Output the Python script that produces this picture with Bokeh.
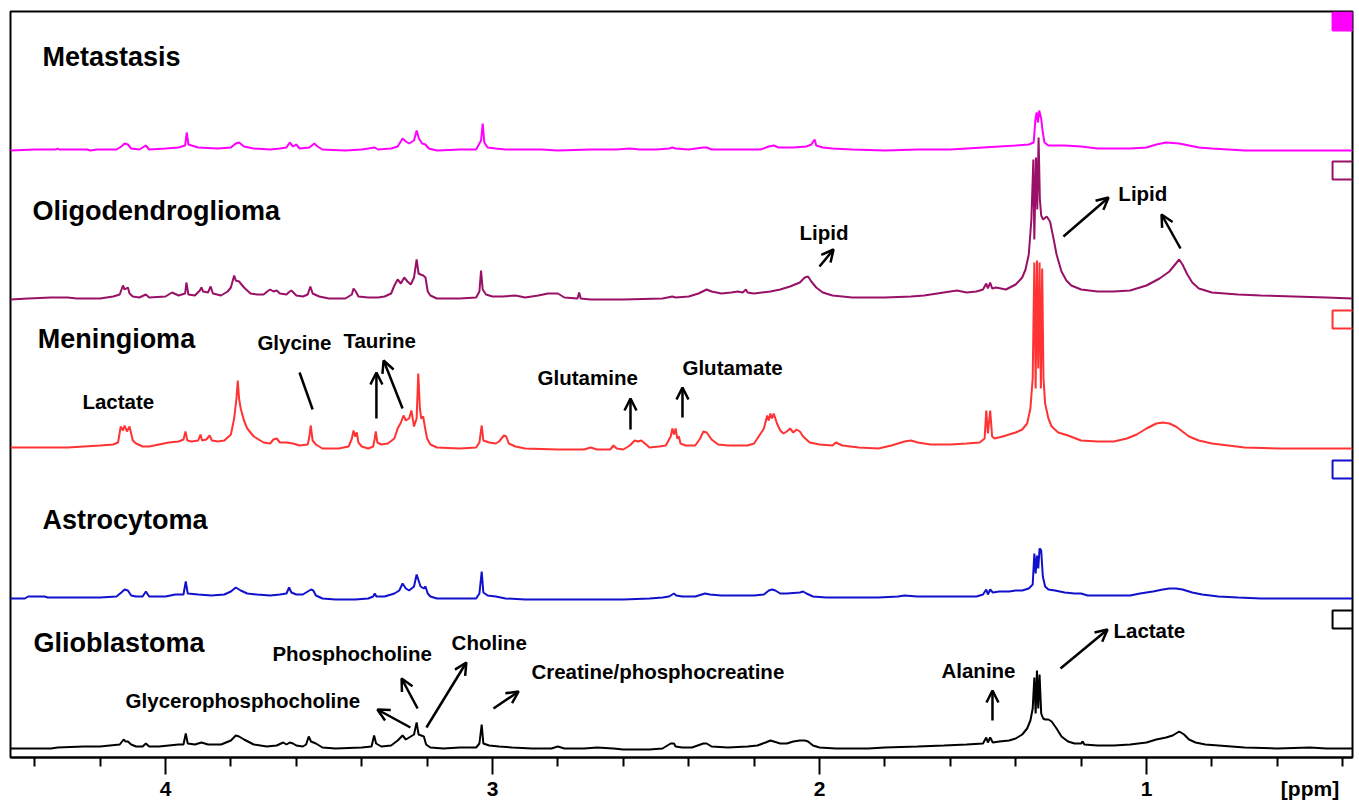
from bokeh.plotting import figure
from bokeh.models import Range1d, FixedTicker, Arrow, OpenHead, LinearAxis
from bokeh.core.properties import value
from bokeh.embed import file_html
from bokeh.resources import INLINE

FONT = "Liberation Sans"

# ---------------- data: (ppm, intensity above baseline) ----------------
metastasis = [(4.474,0),(4.40,1),(4.335,1),(4.33,2),(4.325,1),(4.24,1),(4.23,0),(4.21,1),(4.15,1),(4.135,4),(4.125,7),
 (4.115,6),(4.105,2),(4.08,1),(4.06,5),(4.05,1),(4.00,2),(3.96,3),(3.94,5),(3.935,18),(3.93,6),(3.90,3),(3.84,2),(3.80,3),
 (3.785,7),(3.775,8),(3.76,4),(3.73,2),(3.68,1),(3.65,2),(3.63,3),(3.62,8),(3.61,4),(3.60,6),(3.59,2),(3.56,3),(3.545,7),
 (3.535,4),(3.52,1),(3.45,0),(3.40,1),(3.36,3),(3.35,1),(3.31,2),(3.29,4),(3.275,12),(3.265,9),(3.255,7),(3.24,10),(3.232,20),
 (3.225,12),(3.215,7),(3.205,6),(3.195,2),(3.17,0),(3.10,1),(3.05,1),(3.035,10),(3.030,27),(3.025,8),(3.015,3),(2.99,2),
 (2.96,1),(2.90,1),(2.85,1),(2.80,0),(2.70,1),(2.62,1),(2.58,2),(2.55,1),(2.50,1),(2.46,2),(2.45,3),(2.44,2),(2.40,1),
 (2.355,3),(2.345,3),(2.33,1),(2.25,1),(2.18,1),(2.155,4),(2.14,5),(2.125,3),(2.08,3),(2.04,4),(2.025,6),(2.015,11),(2.01,5),
 (1.99,3),(1.96,2),(1.90,1),(1.80,0),(1.70,1),(1.60,1),(1.55,2),(1.50,3),(1.45,4),(1.40,5),(1.36,6),(1.345,8),(1.340,30),
 (1.336,38),(1.332,28),(1.328,40),(1.322,32),(1.318,20),(1.312,8),(1.30,5),(1.25,5),(1.20,4),(1.15,2),(1.05,2),(1.00,3),
 (0.97,6),(0.94,8),(0.90,7),(0.87,5),(0.84,3),(0.80,2),(0.75,1),(0.70,0),(0.37,0)]

oligodendroglioma = [(4.474,0),(4.42,1),(4.35,2),(4.30,2),(4.27,1),(4.20,1),(4.16,3),(4.14,5),(4.13,14),(4.125,10),(4.115,12),
 (4.11,6),(4.10,3),(4.08,2),(4.06,5),(4.05,2),(4.00,3),(3.98,7),(3.96,4),(3.94,6),(3.936,17),(3.93,5),(3.91,4),(3.895,9),
 (3.89,12),(3.885,8),(3.87,7),(3.862,13),(3.855,6),(3.83,4),(3.81,8),(3.80,12),(3.79,24),(3.785,19),(3.775,18),(3.76,12),
 (3.74,6),(3.72,5),(3.70,5),(3.685,9),(3.68,10),(3.67,8),(3.66,9),(3.65,6),(3.63,5),(3.62,8),(3.615,9),(3.60,4),(3.58,3),
 (3.565,5),(3.557,13),(3.55,6),(3.53,3),(3.50,1),(3.45,1),(3.43,5),(3.425,11),(3.418,8),(3.41,3),(3.38,2),(3.35,2),(3.33,3),
 (3.31,6),(3.30,14),(3.29,20),(3.28,16),(3.27,22),(3.26,18),(3.25,15),(3.24,22),(3.232,40),(3.226,26),(3.22,25),(3.212,24),
 (3.205,22),(3.198,8),(3.19,4),(3.17,1),(3.10,1),(3.05,2),(3.04,8),(3.035,29),(3.03,10),(3.02,5),(3.00,3),(2.97,3),(2.93,4),
 (2.90,2),(2.86,4),(2.83,6),(2.80,6),(2.78,2),(2.74,1),(2.735,7),(2.73,1),(2.70,0),(2.60,0),(2.48,1),(2.45,3),(2.44,2),
 (2.40,3),(2.37,6),(2.345,10),(2.33,8),(2.30,6),(2.27,7),(2.25,8),(2.235,7),(2.225,10),(2.22,7),(2.20,6),(2.15,8),(2.12,10),
 (2.09,13),(2.06,17),(2.045,22),(2.035,23),(2.025,18),(2.01,12),(1.99,7),(1.96,4),(1.90,2),(1.80,2),(1.72,3),(1.68,4),
 (1.62,7),(1.58,9),(1.55,7),(1.52,8),(1.50,10),(1.49,16),(1.485,11),(1.478,17),(1.472,11),(1.46,12),(1.43,10),(1.40,15),
 (1.38,22),(1.37,30),(1.36,45),(1.352,80),(1.346,140),(1.343,60),(1.338,142),(1.334,90),(1.330,162),(1.326,100),(1.322,84),
 (1.316,80),(1.305,83),(1.295,78),(1.285,62),(1.275,45),(1.26,28),(1.245,19),(1.23,14),(1.20,10),(1.15,8),(1.10,8),
 (1.05,9),(1.00,14),(0.96,21),(0.93,28),(0.915,34),(0.90,40),(0.89,35),(0.875,25),(0.86,17),(0.84,11),(0.80,7),(0.72,5),
 (0.65,4),(0.55,3),(0.45,2),(0.37,1)]

meningioma = [(4.474,1),(4.40,1),(4.30,1),(4.25,2),(4.20,3),(4.16,4),(4.145,6),(4.137,22),(4.13,18),(4.125,23),(4.118,17),
 (4.11,22),(4.10,8),(4.09,5),(4.07,2),(4.05,2),(4.02,4),(3.99,6),(3.96,7),(3.945,9),(3.939,17),(3.933,8),(3.92,7),(3.90,8),
 (3.893,14),(3.888,8),(3.875,9),(3.865,13),(3.858,8),(3.84,7),(3.82,8),(3.80,14),(3.79,30),(3.783,50),(3.779,68),(3.775,50),
 (3.77,40),(3.76,28),(3.75,20),(3.73,12),(3.70,6),(3.68,5),(3.67,9),(3.66,10),(3.65,6),(3.63,6),(3.61,5),(3.59,3),(3.565,4),
 (3.56,12),(3.556,23),(3.55,8),(3.54,4),(3.52,0),(3.47,0),(3.44,2),(3.43,10),(3.425,18),(3.42,12),(3.415,16),(3.41,6),
 (3.40,2),(3.38,0),(3.365,2),(3.36,10),(3.357,17),(3.352,6),(3.34,4),(3.32,5),(3.30,10),(3.29,20),(3.28,26),(3.272,33),
 (3.265,28),(3.255,30),(3.248,38),(3.24,22),(3.232,30),(3.227,75),(3.222,40),(3.218,30),(3.212,32),(3.207,22),(3.20,10),
 (3.19,4),(3.17,1),(3.10,0),(3.05,1),(3.04,6),(3.033,23),(3.028,8),(3.01,6),(2.99,5),(2.98,7),(2.965,13),(2.958,12),
 (2.95,5),(2.93,2),(2.90,0),(2.80,-1),(2.72,-1),(2.70,1),(2.68,-1),(2.64,-1),(2.63,3),(2.62,0),(2.60,-1),(2.58,3),(2.565,8),
 (2.555,7),(2.545,8),(2.53,4),(2.52,1),(2.49,2),(2.47,3),(2.455,12),(2.45,20),(2.445,14),(2.44,20),(2.435,10),(2.43,12),
 (2.425,5),(2.41,3),(2.38,3),(2.365,10),(2.355,17),(2.345,16),(2.33,9),(2.31,4),(2.28,3),(2.22,3),(2.20,5),(2.18,15),
 (2.17,20),(2.16,33),(2.155,28),(2.15,35),(2.145,30),(2.14,35),(2.13,25),(2.12,18),(2.11,15),(2.10,17),(2.09,20),(2.08,16),
 (2.07,19),(2.06,17),(2.05,12),(2.03,6),(2.00,4),(1.96,3),(1.95,6),(1.93,3),(1.88,1),(1.82,0),(1.78,3),(1.74,7),(1.72,8),
 (1.70,6),(1.66,4),(1.60,4),(1.55,5),(1.51,6),(1.495,10),(1.49,38),(1.485,15),(1.478,38),(1.472,12),(1.465,10),(1.44,12),
 (1.42,14),(1.40,16),(1.38,19),(1.365,25),(1.355,40),(1.348,70),(1.343,186),(1.339,60),(1.335,188),(1.331,80),(1.327,186),
 (1.323,60),(1.319,180),(1.315,70),(1.31,45),(1.30,30),(1.29,22),(1.27,16),(1.24,13),(1.20,8),(1.15,7),(1.10,7),(1.06,10),
 (1.03,14),(1.00,20),(0.97,25),(0.95,26),(0.93,25),(0.91,22),(0.89,17),(0.87,12),(0.84,8),(0.80,5),(0.75,3),(0.70,1),
 (0.60,0),(0.37,0)]

astrocytoma = [(4.474,0),(4.43,0),(4.42,2),(4.37,2),(4.36,1),(4.20,1),(4.15,2),(4.135,6),(4.125,9),(4.115,8),(4.105,3),
 (4.09,2),(4.07,2),(4.06,7),(4.05,2),(4.00,2),(3.97,4),(3.945,4),(3.938,17),(3.932,5),(3.90,4),(3.86,3),(3.82,4),(3.80,7),
 (3.785,11),(3.77,8),(3.75,5),(3.72,4),(3.68,3),(3.65,4),(3.63,5),(3.622,11),(3.615,6),(3.60,4),(3.58,4),(3.555,9),
 (3.548,8),(3.54,3),(3.52,0),(3.48,-1),(3.42,-1),(3.38,0),(3.365,2),(3.36,5),(3.355,2),(3.33,2),(3.30,5),(3.285,8),
 (3.275,15),(3.265,10),(3.255,8),(3.24,12),(3.232,24),(3.226,18),(3.22,12),(3.21,10),(3.205,12),(3.198,5),(3.19,2),
 (3.17,0),(3.10,0),(3.05,0),(3.04,5),(3.033,27),(3.028,6),(3.015,3),(2.99,2),(2.96,0),(2.90,-1),(2.80,-1),(2.70,-1),
 (2.60,-1),(2.52,0),(2.48,1),(2.46,2),(2.445,5),(2.438,3),(2.42,2),(2.38,2),(2.35,5),(2.335,4),(2.30,3),(2.25,3),(2.20,3),
 (2.17,4),(2.155,8),(2.145,9),(2.135,8),(2.12,5),(2.10,5),(2.06,6),(2.05,7),(2.04,5),(2.02,2),(1.98,1),(1.90,1),(1.82,1),
 (1.76,2),(1.74,3),(1.70,2),(1.60,2),(1.52,2),(1.50,4),(1.49,9),(1.485,4),(1.478,9),(1.47,6),(1.45,7),(1.42,7),(1.40,8),
 (1.38,8),(1.36,10),(1.348,14),(1.343,45),(1.339,25),(1.335,43),(1.331,30),(1.327,50),(1.322,48),(1.317,22),(1.31,12),
 (1.30,9),(1.28,8),(1.25,6),(1.22,5),(1.20,5),(1.18,3),(1.10,3),(1.05,3),(1.02,5),(0.98,7),(0.95,9),(0.93,10),(0.91,10),
 (0.89,9),(0.86,6),(0.83,4),(0.78,2),(0.72,1),(0.65,0),(0.37,0)]

glioblastoma = [(4.474,0),(4.35,0),(4.33,1),(4.25,2),(4.20,2),(4.17,3),(4.14,4),(4.128,9),(4.122,7),(4.115,7),(4.105,4),
 (4.09,2),(4.07,2),(4.06,5),(4.05,2),(4.02,2),(3.99,3),(3.96,4),(3.945,4),(3.938,15),(3.932,5),(3.91,4),(3.89,6),(3.87,4),
 (3.83,4),(3.80,8),(3.785,13),(3.775,12),(3.76,9),(3.73,4),(3.69,2),(3.66,3),(3.64,6),(3.63,4),(3.62,6),(3.61,5),(3.60,3),
 (3.58,2),(3.57,4),(3.562,12),(3.555,7),(3.54,5),(3.52,1),(3.48,0),(3.40,1),(3.37,2),(3.362,13),(3.356,5),(3.34,2),
 (3.31,3),(3.29,8),(3.275,13),(3.265,9),(3.25,12),(3.24,14),(3.232,26),(3.226,14),(3.218,13),(3.21,12),(3.203,4),(3.19,1),
 (3.15,0),(3.10,1),(3.05,1),(3.04,5),(3.033,24),(3.028,5),(3.01,3),(2.98,2),(2.94,1),(2.88,0),(2.82,0),(2.80,2),(2.78,0),
 (2.72,0),(2.68,1),(2.63,0),(2.60,-1),(2.52,-1),(2.48,0),(2.465,3),(2.455,5),(2.445,5),(2.44,2),(2.42,1),(2.39,1),
 (2.355,5),(2.345,5),(2.33,2),(2.28,1),(2.22,2),(2.19,3),(2.165,6),(2.15,8),(2.14,7),(2.12,5),(2.10,5),(2.08,7),(2.06,8),
 (2.045,8),(2.035,7),(2.02,3),(2.00,1),(1.95,0),(1.85,0),(1.80,1),(1.70,2),(1.62,3),(1.55,4),(1.50,5),(1.49,11),(1.485,6),
 (1.478,11),(1.47,6),(1.45,7),(1.42,8),(1.40,10),(1.38,14),(1.365,20),(1.355,28),(1.348,40),(1.343,71),(1.339,35),
 (1.335,78),(1.331,40),(1.327,74),(1.322,35),(1.316,30),(1.31,29),(1.30,29),(1.29,27),(1.275,20),(1.26,12),(1.24,7),
 (1.22,5),(1.20,5),(1.195,7),(1.19,4),(1.15,3),(1.10,3),(1.05,4),(1.00,6),(0.97,9),(0.94,11),(0.92,13),(0.90,17),
 (0.885,14),(0.87,9),(0.85,6),(0.82,4),(0.78,3),(0.70,1),(0.60,0),(0.50,1),(0.45,0),(0.37,0)]

series_names = ["Metastasis", "Oligodendroglioma", "Meningioma", "Astrocytoma", "Glioblastoma"]
series_data = [metastasis, oligodendroglioma, meningioma, astrocytoma, glioblastoma]
series_offsets = [607, 458, 309, 159, 9]
series_colors = ["#FF00FF", "#991166", "#FF3333", "#1111CC", "#000000"]
square_filled = [True, False, False, False, False]

# title label positions (ppm, y)
title_pos = [(4.376, 701), (4.407, 547), (4.391, 419), (4.376, 238), (4.404, 115)]

# annotations: text, ppm, y
ann_text = ["Lipid", "Lipid", "Lactate", "Glycine", "Taurine", "Glutamine", "Glutamate",
            "Glycerophosphocholine", "Phosphocholine", "Choline", "Creatine/phosphocreatine", "Alanine", "Lactate"]
ann_x = [2.061, 1.086, 4.254, 3.719, 3.456, 2.862, 2.419, 4.122, 3.673, 3.125, 2.881, 1.627, 1.101]
ann_y = [525, 564, 356, 415, 417, 380, 390, 57, 104, 115, 86, 87, 127]

# arrows: (x0, y0, x1, y1, head)
arrows = [(2.000, 491, 1.957, 508, True), (1.254, 521, 1.116, 560, True), (0.896, 509, 0.954, 543, True),
          (3.590, 385, 3.550, 348, False), (3.355, 339, 3.355, 385, True), (3.275, 349, 3.333, 397, True),
          (2.578, 328, 2.578, 359, True), (2.419, 340, 2.419, 370, True),
          (3.251, 30, 3.352, 48, True), (3.229, 49, 3.278, 79, True), (3.202, 30, 3.080, 95, True),
          (2.997, 49, 2.920, 66, True), (1.471, 37, 1.471, 67, True), (1.263, 89, 1.119, 128, True)]

major_ticks = [4, 3, 2, 1]
minor_ticks = [4.4, 4.2, 3.8, 3.6, 3.4, 3.2, 2.8, 2.6, 2.4, 2.2, 1.8, 1.6, 1.4, 1.2, 0.8, 0.6, 0.4]
label_ticks = [4, 3, 2, 1, 0.5]
label_texts = ["4", "3", "2", "1", "[ppm]"]

# ---------------- figure ----------------
p = figure(width=1359, height=806, output_backend="svg", toolbar_location=None,
           x_range=Range1d(4.474, 0.37), y_range=Range1d(0, 746), y_axis_location=None,
           min_border_left=10, min_border_right=7, min_border_top=11, min_border_bottom=49)
p.xgrid.visible = False
p.ygrid.visible = False
p.outline_line_color = "black"
p.outline_line_width = 2
p.background_fill_color = "white"

# axis next to the frame: axis line and short (minor) tick marks only, no labels
ax = p.xaxis[0]
ax.ticker = FixedTicker(ticks=[], minor_ticks=minor_ticks)
ax.major_tick_out = 9
ax.major_tick_in = 0
ax.minor_tick_out = 9
ax.minor_tick_in = 0
ax.minor_tick_line_width = 2
ax.minor_tick_line_color = "black"
ax.axis_line_width = 2
ax.major_label_standoff = 0

# axis below it: long tick marks at the whole ppm values (reaching up to the frame) and the labels
lab_ax = LinearAxis(ticker=FixedTicker(ticks=label_ticks, minor_ticks=major_ticks),
                    major_label_overrides=dict(zip(label_ticks, label_texts)))
lab_ax.axis_line_color = None
lab_ax.major_tick_line_color = None
lab_ax.major_tick_out = 8
lab_ax.major_tick_in = 0
lab_ax.minor_tick_out = 8
lab_ax.minor_tick_in = 9
lab_ax.minor_tick_line_width = 2
lab_ax.minor_tick_line_color = "black"
lab_ax.major_label_standoff = 2
lab_ax.major_label_text_font = FONT
lab_ax.major_label_text_font_style = "bold"
lab_ax.major_label_text_font_size = "21px"
lab_ax.major_label_text_color = "black"
p.add_layout(lab_ax, "below")

for name, data, off, col, filled in zip(series_names, series_data, series_offsets, series_colors, square_filled):
    xs = [d[0] for d in data]
    ys = [off + d[1] for d in data]
    p.line(xs, ys, line_color=col, line_width=2)
    p.quad(left=[0.431], right=[0.30], top=[off + 138], bottom=[off + 120],
           fill_color=col if filled else None, line_color=col, line_width=2)

p.text(x=[t[0] for t in title_pos], y=[t[1] for t in title_pos], text=series_names,
       text_font=value(FONT), text_font_style="bold", text_font_size="27px",
       text_baseline="middle", text_align="left", text_color="black")

p.text(x=ann_x, y=ann_y, text=ann_text, text_font=value(FONT), text_font_style="bold",
       text_font_size="20.5px", text_baseline="middle", text_align="left", text_color="black")

for x0, y0, x1, y1, head in arrows:
    h = OpenHead(size=12, line_width=2.5, line_color="black") if head else None
    p.add_layout(Arrow(x_start=x0, y_start=y0, x_end=x1, y_end=y1, end=h, start=None,
                       line_width=2.5, line_color="black"))

open("out.html", "w").write(file_html(p, INLINE))
